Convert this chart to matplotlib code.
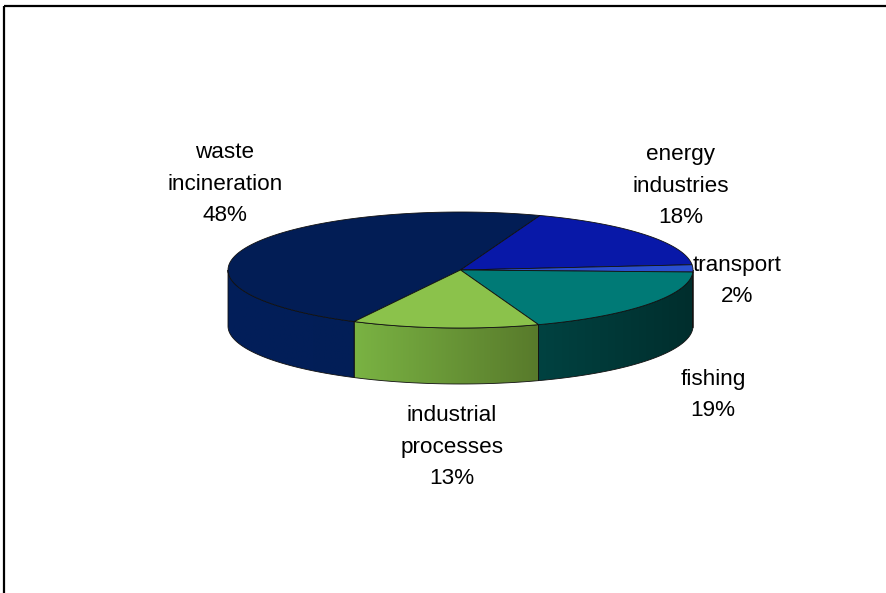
import numpy as np
import matplotlib.pyplot as plt
from matplotlib.patches import Polygon, Rectangle
from matplotlib.colors import to_rgb

# Datos del gráfico (porcentaje por sector)
sectores = ['waste\nincineration', 'energy\nindustries', 'transport', 'fishing', 'industrial\nprocesses']
porcentajes = [48, 18, 2, 19, 13]

# Colores: cara superior y lateral (izquierda / derecha del degradado)
color_sup = ['#021d55', '#0818a8', '#2a4fd0', '#007a76', '#8bc24b']
color_lat_izq = ['#021f5a', '#0818a0', '#2a4fd0', '#004241', '#7ab343']
color_lat_der = ['#021e57', '#0818a0', '#2a4fd0', '#002e2d', '#587a2b']

# Posición de las etiquetas (centro del texto, en píxeles)
pos_etiquetas = [(225, 184), (681, 186), (737, 281), (713, 395), (452, 447)]

# Geometría de la torta 3D
cx, cy, rx, ry, prof = 460.5, 270, 232.5, 58, 56
angulo_inicio = 242.8  # primer sector, sentido horario

plt.rcParams['font.family'] = ['Liberation Sans', 'DejaVu Sans']

fig = plt.figure(figsize=(8.87, 5.93), dpi=100)
ax = fig.add_axes([0, 0, 1, 1])


def punto(t, dz=0):
    t = np.radians(t)
    return cx + rx * np.cos(t), cy - ry * np.sin(t) + dz


# Ángulos de cada sector
limites = []
a0 = angulo_inicio
for p in porcentajes:
    a1 = a0 - p * 3.6
    limites.append((a1, a0))
    a0 = a1

# Caras laterales (sólo la mitad frontal), con degradado horizontal
for i, (a1, a0) in enumerate(limites):
    for k in (-2, -1, 0, 1):
        u = max(a1, 180 + 360 * k)
        v = min(a0, 360 + 360 * k)
        if v <= u:
            continue
        tt = np.linspace(u, v, 100)
        contorno = [punto(t) for t in tt] + [punto(t, prof) for t in tt[::-1]]
        xs = [q[0] for q in contorno]
        ys = [q[1] for q in contorno]
        x0, x1 = min(xs), max(xs)
        c0 = np.array(to_rgb(color_lat_izq[i]))
        c1 = np.array(to_rgb(color_lat_der[i]))
        f = np.linspace(0, 1, 200)[:, None]
        grad = (c0 * (1 - f) + c1 * f)[None, :, :]
        poly = Polygon(contorno, closed=True, facecolor='none',
                       edgecolor='#111111', linewidth=0.6)
        ax.add_patch(poly)
        im = ax.imshow(grad, extent=(x0, x1, max(ys), min(ys)), aspect='auto',
                       interpolation='bilinear', zorder=0.5)
        im.set_clip_path(poly)

# Caras superiores
for i, (a1, a0) in enumerate(limites):
    tt = np.linspace(a0, a1, 120)
    pts = [(cx, cy)] + [punto(t) for t in tt]
    ax.add_patch(Polygon(pts, closed=True, facecolor=color_sup[i],
                         edgecolor='#111111', linewidth=0.6))

# Etiquetas
for i, (txt, p) in enumerate(zip(sectores, porcentajes)):
    x, y = pos_etiquetas[i]
    ax.text(x, y, f'{txt}\n{p}%', ha='center', va='center', fontsize=16.2,
            linespacing=1.68, color='black')

# Marco del gráfico
ax.add_patch(Rectangle((4.5, 6), 900, 600, fill=False, edgecolor='black',
                       linewidth=1.6, clip_on=False))

ax.set_xlim(0, 887)
ax.set_ylim(593, 0)
ax.axis('off')

fig.savefig('out.png', dpi=100)
